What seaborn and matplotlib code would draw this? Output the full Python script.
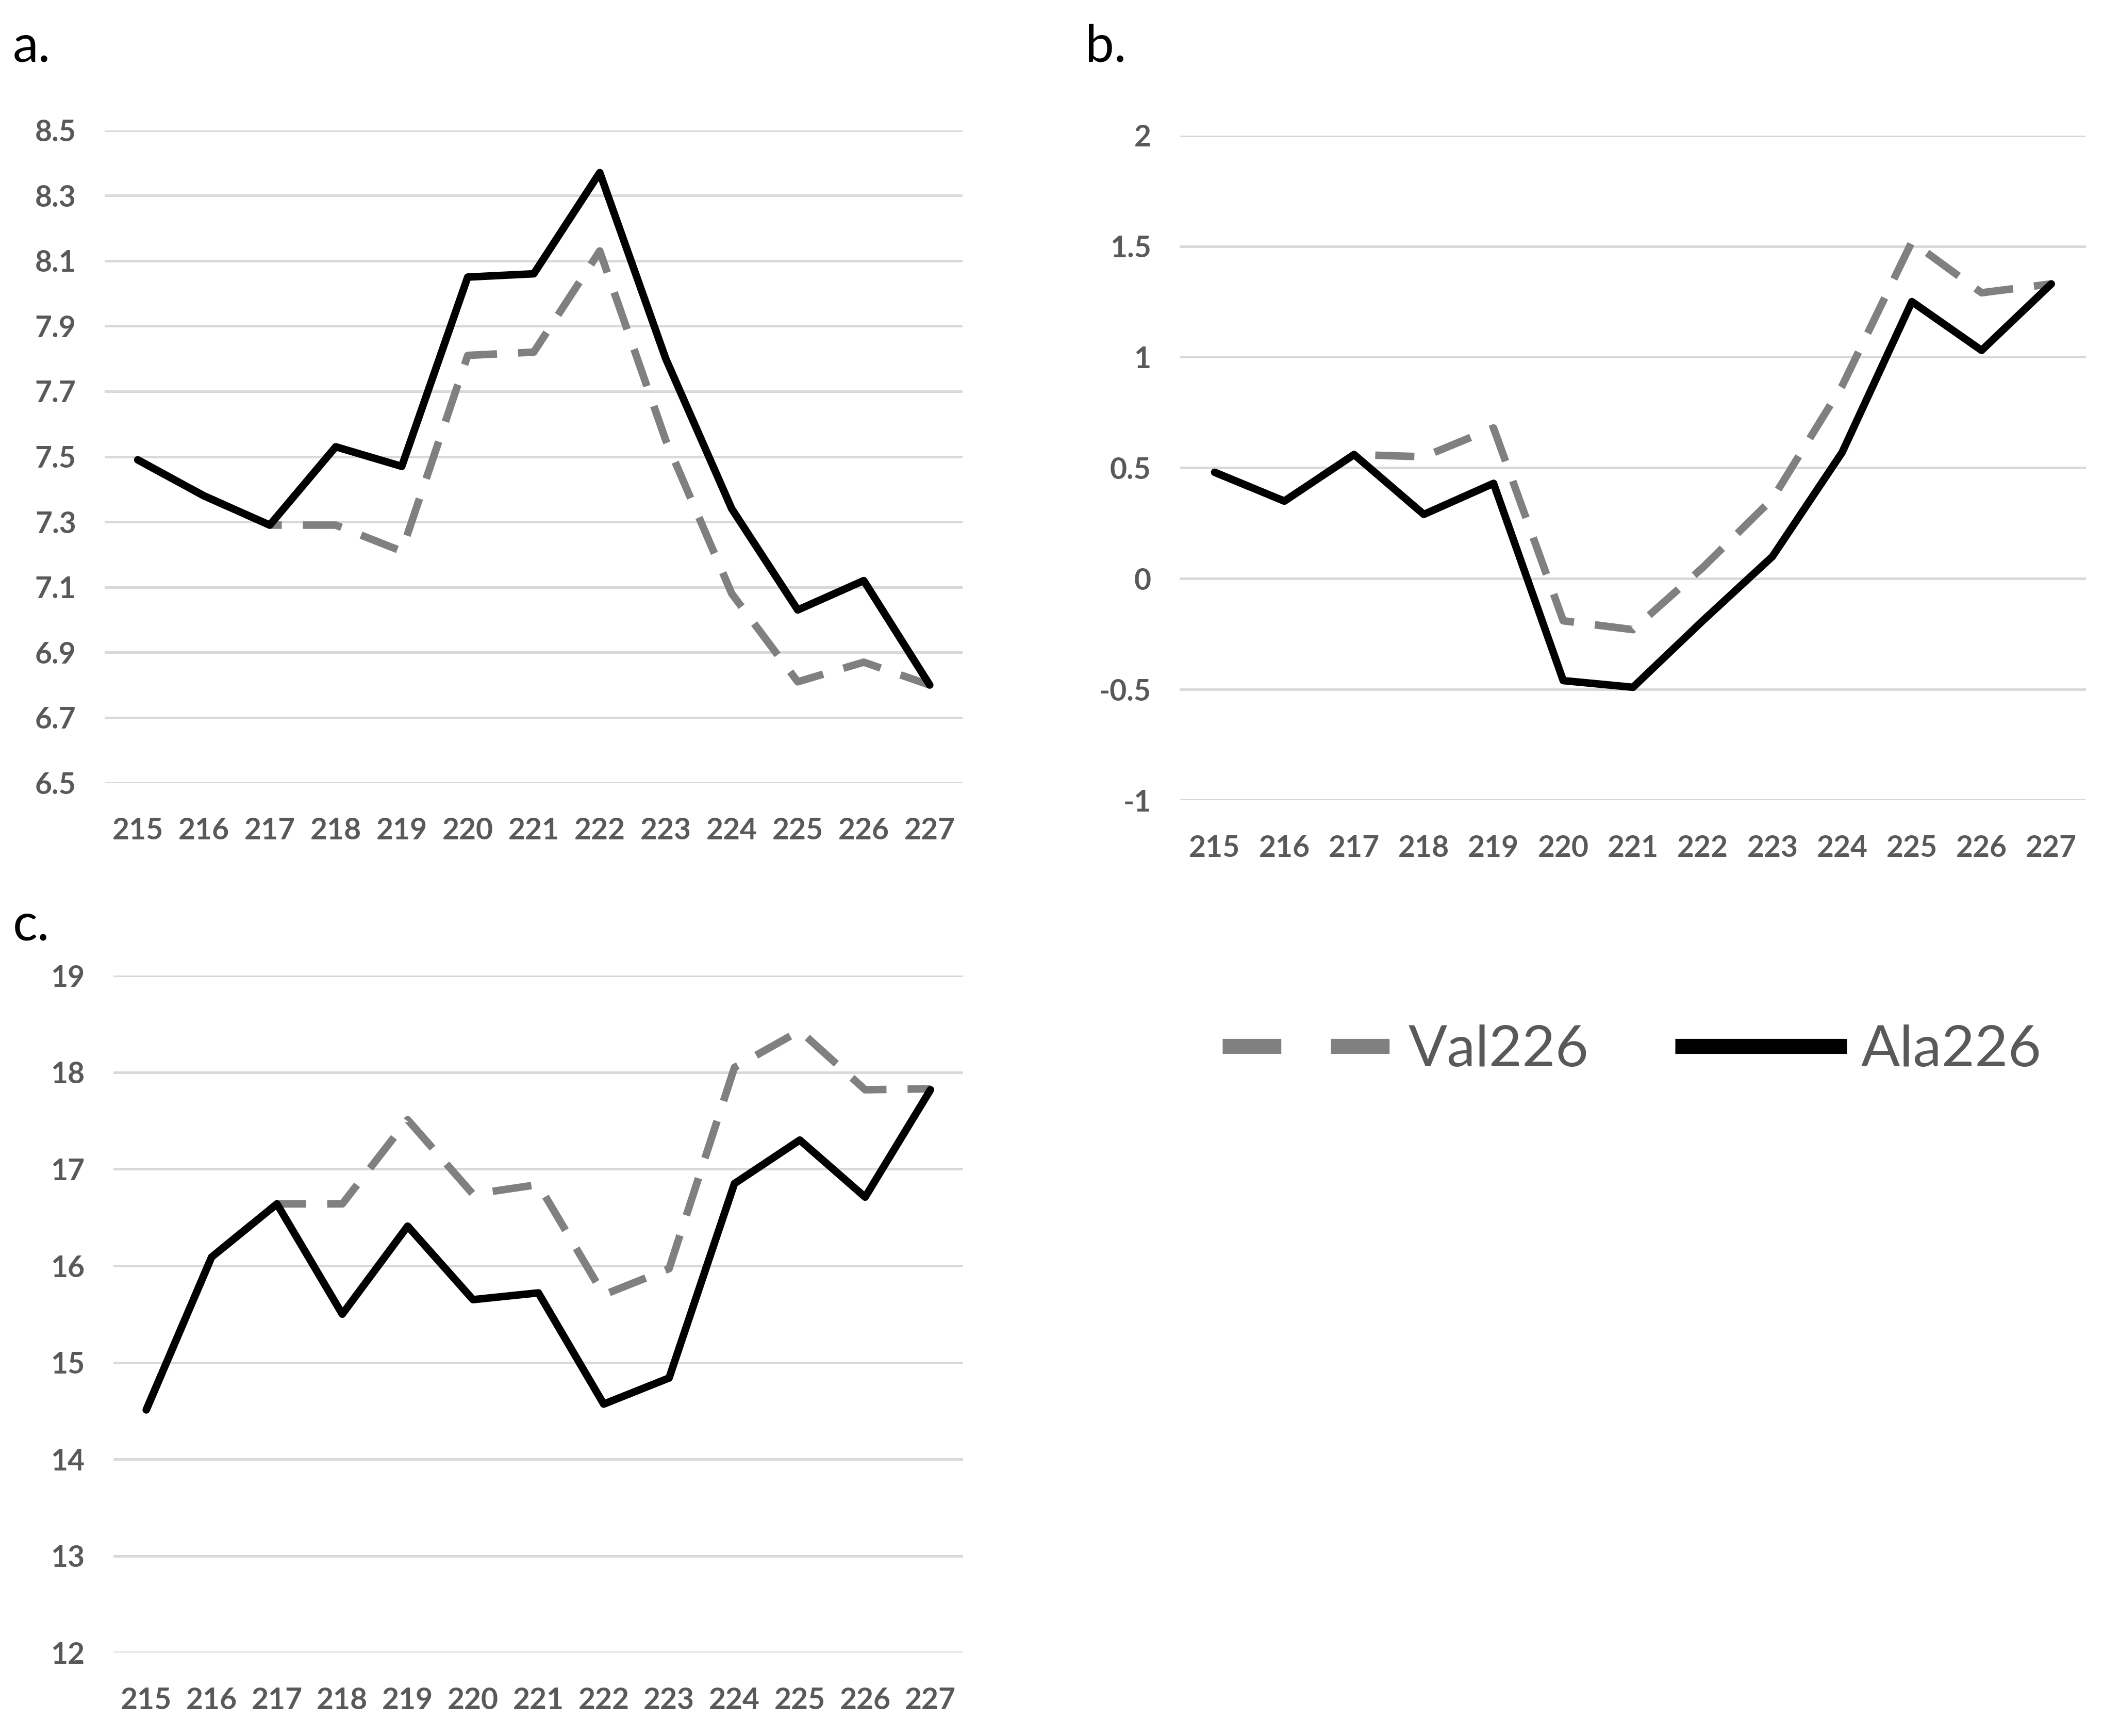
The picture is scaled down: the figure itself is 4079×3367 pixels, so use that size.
import numpy as np
import pandas as pd
import matplotlib
matplotlib.use("Agg")
import matplotlib.pyplot as plt
import seaborn as sns
from matplotlib.lines import Line2D

sns.set_style("white")
plt.rcParams['font.family'] = ['Lato', 'DejaVu Sans']

positions = ['215', '216', '217', '218', '219', '220', '221', '222', '223', '224', '225', '226', '227']

# panel a
a_val = [7.49, 7.38, 7.29, 7.29, 7.21, 7.81, 7.82, 8.13, 7.55, 7.08, 6.81, 6.87, 6.80]
a_ala = [7.49, 7.38, 7.29, 7.53, 7.47, 8.05, 8.06, 8.37, 7.80, 7.34, 7.03, 7.12, 6.80]
a_ticks = [6.5, 6.7, 6.9, 7.1, 7.3, 7.5, 7.7, 7.9, 8.1, 8.3, 8.5]
a_ticklabels = ['6.5', '6.7', '6.9', '7.1', '7.3', '7.5', '7.7', '7.9', '8.1', '8.3', '8.5']

# panel b
b_val = [0.48, 0.35, 0.56, 0.55, 0.68, -0.19, -0.23, 0.05, 0.36, 0.87, 1.52, 1.29, 1.33]
b_ala = [0.48, 0.35, 0.56, 0.29, 0.43, -0.46, -0.49, -0.19, 0.10, 0.57, 1.25, 1.03, 1.33]
b_ticks = [-1, -0.5, 0, 0.5, 1, 1.5, 2]
b_ticklabels = ['-1', '-0.5', '0', '0.5', '1', '1.5', '2']

# panel c
c_val = [14.51, 16.09, 16.64, 16.64, 17.51, 16.74, 16.84, 15.70, 15.97, 18.05, 18.43, 17.82, 17.83]
c_ala = [14.51, 16.09, 16.64, 15.50, 16.41, 15.65, 15.72, 14.57, 14.84, 16.85, 17.30, 16.71, 17.82]
c_ticks = [12, 13, 14, 15, 16, 17, 18, 19]
c_ticklabels = ['12', '13', '14', '15', '16', '17', '18', '19']

W, H = 4079, 3367
fig = plt.figure(figsize=(W / 100, H / 100), dpi=100)

tick_color = '#595959'
grid_color = '#d9d9d9'
dash_pat = (0, (5.2, 2.8))

def panel(rect, val, ala, ticks, ticklabels, letter, letter_xy):
    ax = fig.add_axes(rect)
    x = np.arange(len(positions))
    df = pd.DataFrame({'pos': x, 'Val226': val, 'Ala226': ala})
    for t in ticks:
        ax.axhline(t, color=grid_color, lw=3.6, zorder=0)
    sns.lineplot(data=df, x='pos', y='Val226', ax=ax, color='#808080', lw=10.5,
                 linestyle=dash_pat, zorder=2, clip_on=False)
    sns.lineplot(data=df, x='pos', y='Ala226', ax=ax, color='black', lw=10.5,
                 zorder=3, clip_on=False)
    ax.set_xlim(-0.5, len(positions) - 0.5)
    ax.set_ylim(ticks[0], ticks[-1])
    ax.set_xticks(x)
    ax.set_xticklabels(positions)
    ax.set_yticks(ticks)
    ax.set_yticklabels(ticklabels)
    ax.set_xlabel('')
    ax.set_ylabel('')
    for s in ax.spines.values():
        s.set_visible(False)
    ax.tick_params(axis='both', length=0, labelsize=41, labelcolor=tick_color)
    ax.tick_params(axis='y', pad=40)
    ax.tick_params(axis='x', pad=48)
    for lab in ax.get_xticklabels() + ax.get_yticklabels():
        lab.set_fontweight('bold')
    fig.text(letter_xy[0], letter_xy[1], letter, fontsize=72, color='black',
             ha='left', va='center')
    return ax

panel([0.0498, 0.549, 0.408, 0.376], a_val, a_ala, a_ticks, a_ticklabels, 'a.', (0.006, 0.973))
panel([0.561, 0.539, 0.431, 0.383], b_val, b_ala, b_ticks, b_ticklabels, 'b.', (0.516, 0.973))
panel([0.054, 0.048, 0.404, 0.390], c_val, c_ala, c_ticks, c_ticklabels, 'c.', (0.006, 0.467))

handles = [Line2D([], [], color='#808080', lw=21, linestyle=(0, (3.9, 3.3)),
                  dash_capstyle='butt'),
           Line2D([], [], color='black', lw=21, solid_capstyle='butt')]
fig.legend(handles, ['Val226', 'Ala226'], loc='center', bbox_to_anchor=(0.776, 0.395),
           ncol=2, frameon=False, fontsize=80, labelcolor=tick_color,
           handlelength=3.0, handletextpad=0.25, columnspacing=1.5)

fig.savefig('out.png', dpi=100, facecolor='white')
